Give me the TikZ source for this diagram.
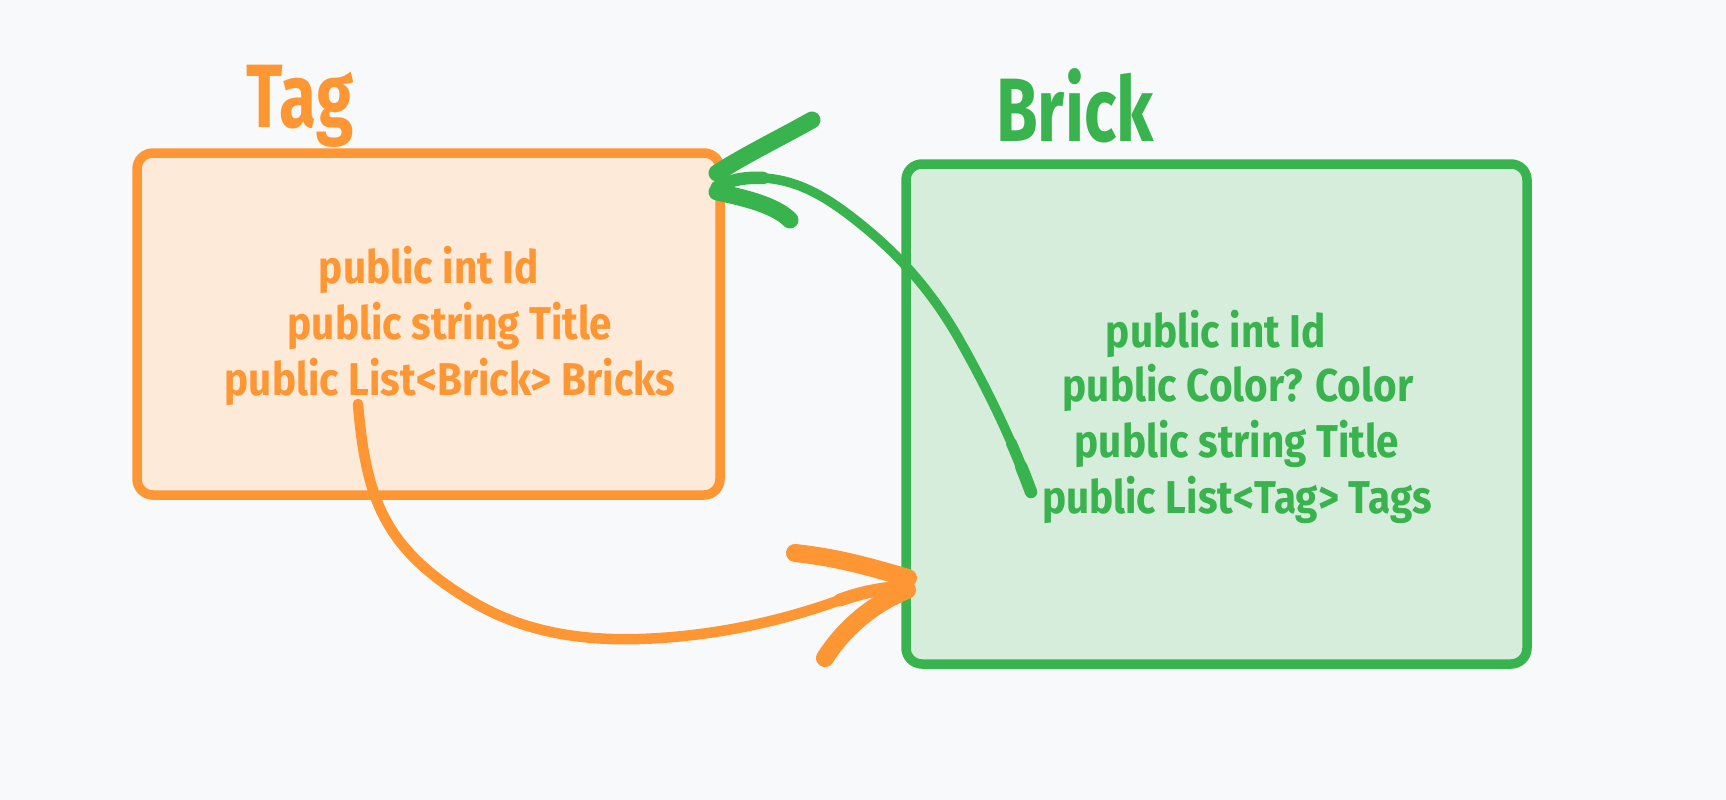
\documentclass[tikz,border=0pt]{standalone}
\usepackage{fontspec}
\setmainfont{Fira Sans}
\newfontfamily\handfont[FakeStretch=0.88]{Fira Sans}
\newfontfamily\titlefont[FakeStretch=0.75]{Fira Sans}
\definecolor{bgc}{RGB}{248,249,250}
\definecolor{orangec}{RGB}{255,150,52}
\definecolor{orangefill}{RGB}{253,234,216}
\definecolor{greenc}{RGB}{57,179,78}
\definecolor{greenfill}{RGB}{215,237,220}
\tikzset{
  tagbox/.style={draw=orangec, fill=orangefill, line width=9.5pt, rounded corners=16pt, inner sep=0pt},
  brickbox/.style={draw=greenc, fill=greenfill, line width=9.5pt, rounded corners=16pt, inner sep=0pt},
  titletext/.style={inner sep=0pt, anchor=base, font=\titlefont\bfseries\fontsize{90}{90}\selectfont},
  bodytext/.style={inner sep=0pt, anchor=base, font=\handfont\bfseries\fontsize{46}{56}\selectfont},
  oline/.style={draw=orangec, line cap=round, line join=round},
  gline/.style={draw=greenc, line cap=round, line join=round},
}
\begin{document}
\begin{tikzpicture}[x=1pt,y=-1pt]
\fill[bgc] (0,0) rectangle (1726,800);
\useasboundingbox (0,0) rectangle (1726,800);
% boxes
\node[tagbox, minimum width=583pt, minimum height=342pt] (tag) at (428.5,324) {};
\node[brickbox, minimum width=621pt, minimum height=500pt] (brick) at (1216.5,414) {};
% titles
\node[titletext, text=orangec] (tagtitle) at (300,127) {Tag};
\node[titletext, text=greenc] (bricktitle) at (1075,141) {Brick};
% tag fields
\node[bodytext, text=orangec] (t1) at (429,283) {public int Id};
\node[bodytext, text=orangec] (t2) at (450,339) {public string Title};
\node[bodytext, text=orangec] (t3) at (450,395) {public List<Brick> Bricks};
% brick fields
\node[bodytext, text=greenc] (b1) at (1216,347) {public int Id};
\node[bodytext, text=greenc] (b2) at (1238,401) {public Color? Color};
\node[bodytext, text=greenc] (b3) at (1237,457) {public string Title};
\node[bodytext, text=greenc] (b4) at (1237,513) {public List<Tag> Tags};
% orange connector: Tag.Bricks -> Brick
\coordinate (os) at (358,404);
\coordinate (o1) at (473,602);
\coordinate (o2) at (660,638);
\coordinate (o3) at (840,600);
\coordinate (ot) at (908,587);
\coordinate (ob1) at (795,553);
\coordinate (ob1t) at (908,578);
\coordinate (ob2) at (825,658);
\coordinate (ob2t) at (907,590);
\draw[oline, line width=10.5pt] (os) .. controls (366,500) and (385,550) .. (o1)
  .. controls (533,637.5) and (600,642) .. (o2)
  .. controls (730,633.3) and (790,618) .. (o3)
  .. controls (865,591) and (885,588) .. (ot);
\draw[oline, line width=13pt] (o3) .. controls (865,591) and (885,588) .. (ot);
\draw[oline, line width=18pt] (ob1) .. controls (840,558) and (870,567) .. (ob1t);
\draw[oline, line width=18pt] (ob2) .. controls (843,630) and (870,605) .. (ob2t);
% green connector: Brick.Tags -> Tag
\coordinate (gs) at (1031,492);
\coordinate (g1) at (959,339);
\coordinate (g2) at (863,226);
\coordinate (g3) at (763,178);
\coordinate (gt) at (717,187);
\coordinate (gb1) at (812,120);
\coordinate (gb1t) at (717,173);
\coordinate (gb2) at (790,220);
\coordinate (gb2t) at (717,192);
\draw[gline, line width=9.5pt] (gs) .. controls (1010,435) and (985,385) .. (g1)
  .. controls (935,297) and (905,260) .. (g2)
  .. controls (830,199) and (800,180) .. (g3)
  .. controls (745,177) and (730,180) .. (gt);
\draw[gline, line width=11pt] (gs) .. controls (1024.7,474.9) and (1018.04,458.43) .. (1011.1,442.5);
\draw[gline, line width=12.5pt] (gs) .. controls (1027.85,483.45) and (1024.61,475.06) .. (1021.29,466.81);
\draw[gline, line width=12.5pt] (g3) .. controls (745,177) and (730,180) .. (gt);
\draw[gline, line width=17pt] (gb1) .. controls (780,138) and (745,155) .. (gb1t);
\draw[gline, line width=17pt] (gb2) .. controls (775,205) and (745,198) .. (gb2t);
\end{tikzpicture}
\end{document}
